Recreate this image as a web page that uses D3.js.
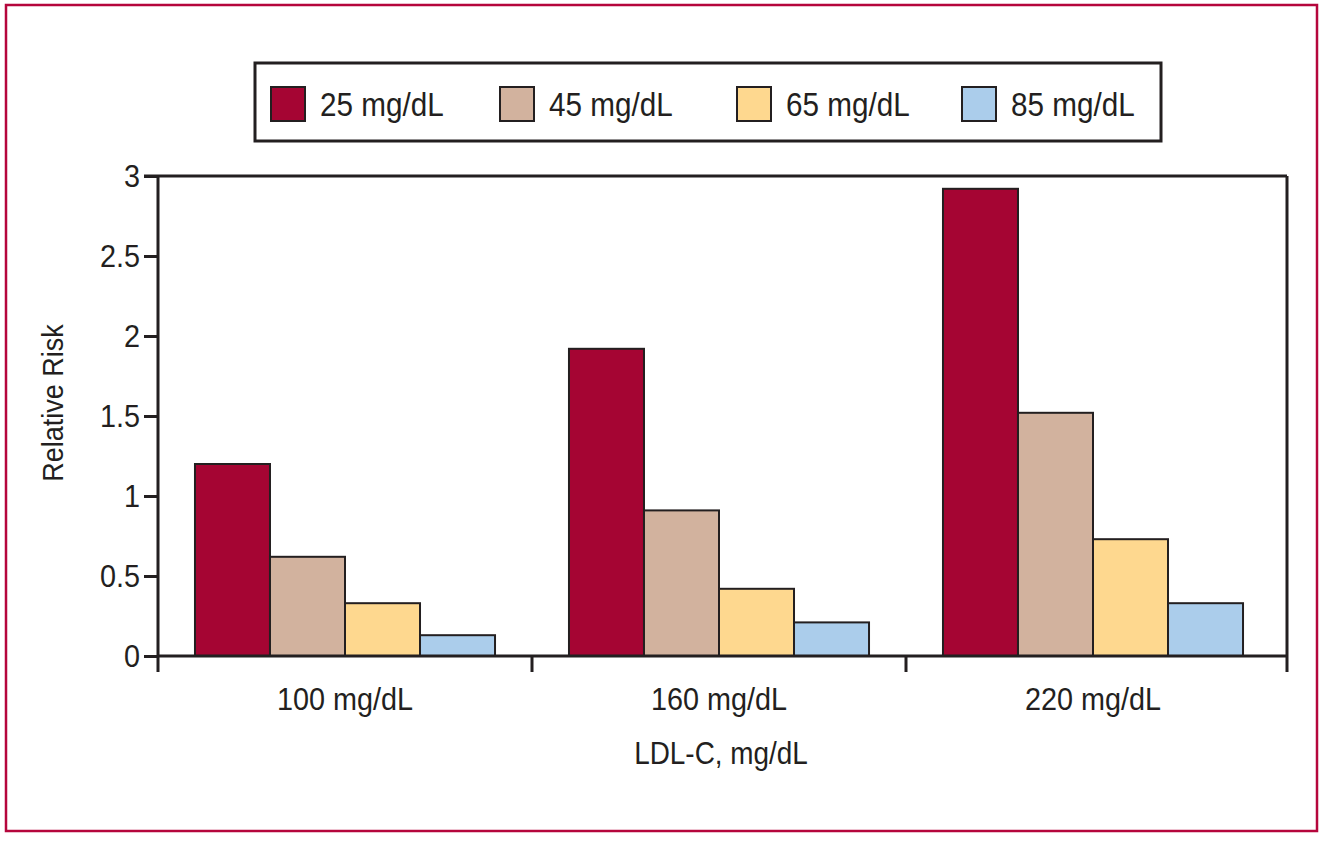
<!DOCTYPE html>
<html>
<head>
<meta charset="utf-8">
<script src="https://cdn.jsdelivr.net/npm/d3@7"></script>
<style>
  body { margin: 0; background: white; }
  text { font-family: "Liberation Sans", Arial, sans-serif; fill: #231f20; }
</style>
</head>
<body>
<div id="chart"></div>
<script>
// data
let groups = ["100 mg/dL", "160 mg/dL", "220 mg/dL"];
let series = ["25 mg/dL", "45 mg/dL", "65 mg/dL", "85 mg/dL"];
let v25 = [1.2, 1.92, 2.92];
let v45 = [0.62, 0.91, 1.52];
let v65 = [0.33, 0.42, 0.73];
let v85 = [0.13, 0.21, 0.33];
let yTicks = [0, 0.5, 1, 1.5, 2, 2.5, 3];
let colors = ["#a50533", "#d2b29e", "#fed88f", "#abcdeb"];

let values = [v25, v45, v65, v85];
let W = 1328, H = 842;
let ink = "#231f20";
let squeeze = 0.9; // horizontal squeeze to mimic a condensed face

let svg = d3.select("#chart")
  .append("svg")
  .attr("width", W)
  .attr("height", H);

// outer frame
svg.append("rect")
  .attr("x", 6).attr("y", 5)
  .attr("width", 1311).attr("height", 826)
  .attr("fill", "none")
  .attr("stroke", "#b5063c")
  .attr("stroke-width", 2.5);

let pLeft = 158, pTop = 176, pBottom = 656, pRight = 1287;

let x = d3.scaleBand().domain(groups).range([pLeft, 1280]).paddingInner(0).paddingOuter(0);
let xSub = d3.scaleBand().domain(series).range([0, x.bandwidth()]).paddingInner(0).paddingOuter(0.493);
let y = d3.scaleLinear().domain([0, 3]).range([pBottom, pTop]);

// y axis
let yAxis = svg.append("g")
  .attr("transform", `translate(${pLeft},0)`)
  .call(d3.axisLeft(y).tickValues(yTicks).tickSize(14).tickSizeOuter(0).tickFormat(d3.format("")));
yAxis.select(".domain").remove();
yAxis.selectAll(".tick line").attr("stroke", ink).attr("stroke-width", 3);
yAxis.selectAll(".tick text")
  .attr("x", -18 / squeeze)
  .attr("transform", `scale(${squeeze},1)`)
  .style("font-size", "32px");

// bars
svg.append("g")
  .selectAll("g")
  .data(groups)
  .join("g")
  .attr("transform", d => `translate(${x(d)},0)`)
  .selectAll("rect")
  .data((g, gi) => series.map((s, si) => ({ key: s, value: values[si][gi], c: colors[si] })))
  .join("rect")
  .attr("x", d => xSub(d.key))
  .attr("y", d => y(d.value))
  .attr("width", xSub.bandwidth())
  .attr("height", d => pBottom - y(d.value))
  .attr("fill", d => d.c)
  .attr("stroke", ink)
  .attr("stroke-width", 2);

// frame lines: left, top, right, bottom
svg.append("line").attr("x1", pLeft).attr("x2", pLeft).attr("y1", pTop).attr("y2", 672)
  .attr("stroke", ink).attr("stroke-width", 3);
svg.append("line").attr("x1", pLeft - 14).attr("x2", pRight).attr("y1", pTop).attr("y2", pTop)
  .attr("stroke", ink).attr("stroke-width", 3);
svg.append("line").attr("x1", pRight).attr("x2", pRight).attr("y1", pTop).attr("y2", 672)
  .attr("stroke", ink).attr("stroke-width", 3);
svg.append("line").attr("x1", pLeft).attr("x2", pRight).attr("y1", pBottom).attr("y2", pBottom)
  .attr("stroke", ink).attr("stroke-width", 3);

// x tick marks between groups
svg.append("g")
  .selectAll("line")
  .data(groups.slice(1))
  .join("line")
  .attr("x1", d => x(d)).attr("x2", d => x(d))
  .attr("y1", pBottom).attr("y2", 672)
  .attr("stroke", ink).attr("stroke-width", 3);

// x labels
let xAxis = svg.append("g")
  .attr("transform", `translate(0,${pBottom})`)
  .call(d3.axisBottom(x).tickSize(0).tickPadding(31));
xAxis.select(".domain").remove();
xAxis.selectAll(".tick text")
  .attr("transform", `scale(${squeeze},1)`)
  .style("font-size", "32px");

// axis titles
svg.append("text")
  .attr("transform", `translate(721,764) scale(${squeeze},1)`)
  .attr("text-anchor", "middle")
  .style("font-size", "31px")
  .text("LDL-C, mg/dL");

svg.append("text")
  .attr("transform", `translate(63,403) rotate(-90) scale(${squeeze},1)`)
  .attr("text-anchor", "middle")
  .style("font-size", "30px")
  .text("Relative Risk");

// legend
svg.append("rect")
  .attr("x", 255).attr("y", 63)
  .attr("width", 906).attr("height", 78)
  .attr("fill", "white")
  .attr("stroke", ink)
  .attr("stroke-width", 3);

let legendX = [271, 500, 737, 962];
let leg = svg.append("g")
  .selectAll("g")
  .data(series)
  .join("g")
  .attr("transform", (d, i) => `translate(${legendX[i]},87)`);
leg.append("rect")
  .attr("width", 34).attr("height", 34)
  .attr("fill", (d, i) => colors[i])
  .attr("stroke", ink)
  .attr("stroke-width", 2);
leg.append("text")
  .attr("transform", `translate(49,29) scale(${squeeze},1)`)
  .style("font-size", "33px")
  .text(d => d);
</script>
</body>
</html>
